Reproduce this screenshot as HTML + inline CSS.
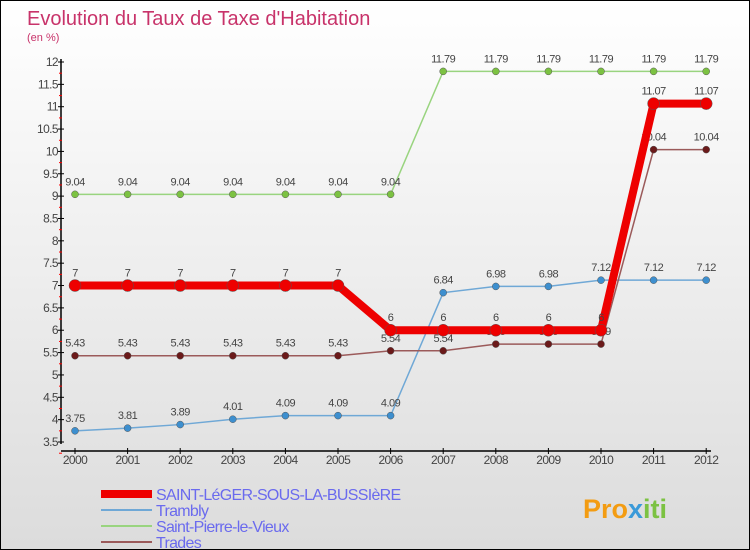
<!DOCTYPE html>
<html><head><meta charset="utf-8"><style>
body{margin:0}
#wrap{width:748px;height:548px;border:1px solid #000;background:linear-gradient(#fff,#dcdcdc);position:relative;font-family:"Liberation Sans",sans-serif;overflow:hidden}
text{font-family:"Liberation Sans",sans-serif}
</style></head><body>
<div id="wrap">
<svg id="chart" width="748" height="548">
<text x="26" y="24" font-size="20" fill="#c8336a" font-weight="300">Evolution du Taux de Taxe d'Habitation</text>
<text x="26" y="40" font-size="11" fill="#c8336a">(en %)</text>
<g id="axes"></g><g id="series"></g><g id="legend"></g>
<text x="582" y="517" font-size="27" font-weight="bold" fill="#f39c12">Pro<tspan fill="#3a9ad9">x</tspan><tspan fill="#7cc242">iti</tspan></text>
</svg>
</div>
<script>
const years=[2000,2001,2002,2003,2004,2005,2006,2007,2008,2009,2010,2011,2012];
const yTicks=[3.5,4,4.5,5,5.5,6,6.5,7,7.5,8,8.5,9,9.5,10,10.5,11,11.5,12];
const saintLeger=[7,7,7,7,7,7,6,6,6,6,6,11.07,11.07];
const trambly=[3.75,3.81,3.89,4.01,4.09,4.09,4.09,6.84,6.98,6.98,7.12,7.12,7.12];
const saintPierre=[9.04,9.04,9.04,9.04,9.04,9.04,9.04,11.79,11.79,11.79,11.79,11.79,11.79];
const trades=[5.43,5.43,5.43,5.43,5.43,5.43,5.54,5.54,5.69,5.69,5.69,10.04,10.04];
const seriesNames=["SAINT-LéGER-SOUS-LA-BUSSIèRE","Trambly","Saint-Pierre-le-Vieux","Trades"];
const NS="http://www.w3.org/2000/svg";
const xS=i=>74+i*52.6;
const yS=v=>441-(v-3.5)/8.5*380;
function mk(p,t,a){const e=document.createElementNS(NS,t);for(const k in a)e.setAttribute(k,a[k]);p.appendChild(e);return e;}
const ax=document.getElementById('axes');
let l=mk(ax,'line',{x1:60,y1:58,x2:60,y2:443,stroke:'#000','stroke-width':1.5});

l=mk(ax,'line',{x1:60,y1:450,x2:710,y2:450,stroke:'#000','stroke-width':1.5});

yTicks.forEach(v=>{const y=yS(v);
mk(ax,'line',{x1:57,y1:y,x2:63,y2:y,stroke:'#000'});
mk(ax,'line',{x1:58,y1:y+11.2,x2:61,y2:y+11.2,stroke:'#f00'});
const t=mk(ax,'text',{x:57,y:y+4,'font-size':12,'text-anchor':'end',fill:'#444','letter-spacing':'-0.6'});t.textContent=v;
});
years.forEach((yr,i)=>{const x=xS(i);
mk(ax,'line',{x1:x,y1:447,x2:x,y2:453,stroke:'#000'});
const t=mk(ax,'text',{x:x,y:463,'font-size':12,'text-anchor':'middle',fill:'#444','letter-spacing':'-0.6'});t.textContent=yr;
});
const sg=document.getElementById('series');
function draw(data,color,w,r,name,dot){
const g=mk(sg,'g',{});
const pl=mk(g,'polyline',{points:data.map((v,i)=>xS(i)+','+yS(v)).join(' '),fill:'none',stroke:color,'stroke-width':w});

data.forEach((v,i)=>{const c=mk(g,'circle',{cx:xS(i),cy:yS(v),r:r,fill:dot||color,stroke:'#555','stroke-width':0.5});

const t=mk(g,'text',{x:xS(i),y:yS(v)-9,'font-size':11,'text-anchor':'middle',fill:'#444','letter-spacing':'-0.5'});t.textContent=v;
});}
draw(trambly,'#6fa8d6',1.5,3.5,'trambly-series','#3d8fcf');
draw(saintPierre,'#99d47f',1.5,3.5,'saint-pierre-series','#7cc242');
draw(trades,'#9b5a5a',1.5,3.5,'trades-series','#6b1a1a');
draw(saintLeger,'#ee0000',8,6,'saint-leger-series','#ee0000');
const lg=document.getElementById('legend');
const lc=['#ee0000','#6fa8d6','#99d47f','#9b5a5a'],lw=[8,2,2,2];
seriesNames.forEach((n,i)=>{const y=493+i*16;
const g=mk(lg,'g',{});
mk(g,'line',{x1:100,y1:y,x2:151,y2:y,stroke:lc[i],'stroke-width':lw[i]});
const t=mk(g,'text',{x:155,y:y+6,'font-size':16,fill:'#6a6aee','letter-spacing':'-0.7'});t.textContent=n;});
</script>
</body></html>
